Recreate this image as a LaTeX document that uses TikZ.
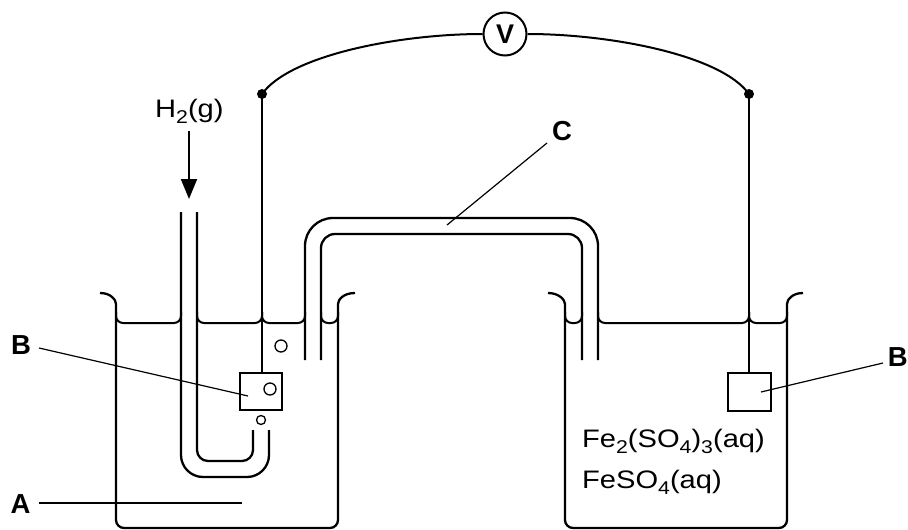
\documentclass[tikz,border=0pt]{standalone}
\usepackage{fontspec}
\setmainfont{Liberation Sans}
\newfontfamily\chemfont[FakeStretch=1.15]{Liberation Sans}
\usetikzlibrary{arrows.meta}
\newcommand\chs[1]{\raisebox{-6pt}{\fontsize{18.5}{18.5}\selectfont #1}}
\tikzset{
  glass/.style={line width=2.3pt, rounded corners=8pt},
  wire/.style={line width=2pt},
  leader/.style={line width=1.2pt},
  bubble/.style={line width=1.3pt},
  lbl/.style={font=\fontsize{27.5}{30}\selectfont\bfseries, inner sep=0pt},
  chem/.style={font=\chemfont\fontsize{25.3}{28}\selectfont, inner sep=0pt},
}
\begin{document}
\begin{tikzpicture}[x=1pt,y=-1pt]
\useasboundingbox (0,0) rectangle (908,530);
% ---- beakers
\draw[glass] (100,293) .. controls (111,293) and (116,300) .. (116,312) -- (116,528) -- (338,528) -- (338,312) .. controls (338,300) and (343,293) .. (355,293);
\draw[glass] (548,293) .. controls (559,293) and (565,300) .. (565,312) -- (565,528) -- (787,528) -- (787,312) .. controls (787,300) and (792,293) .. (803,293);
% ---- liquid surfaces (menisci)
\foreach \a/\b in {116/181, 197/262, 262/305, 321/338, 565/582, 598/749, 749/787}
  \draw[line width=2pt, rounded corners=7pt] (\a,312) -- (\a,323) -- (\b,323) -- (\b,312);
% ---- hydrogen U tube
\draw[line width=2.3pt, rounded corners=22pt] (181,212) -- (181,477) -- (269,477) -- (269,430);
\draw[line width=2.3pt, rounded corners=11pt] (197,212) -- (197,461) -- (253,461) -- (253,430);
% ---- salt bridge
\draw[line width=2.3pt, rounded corners=28pt] (305,360) -- (305,218) -- (598,218) -- (598,360);
\draw[line width=2.3pt, rounded corners=14pt] (321,360) -- (321,234) -- (582,234) -- (582,360);
% ---- electrodes
\node[draw, line width=2.3pt, minimum width=42pt, minimum height=37pt, inner sep=0pt] (eL) at (261,391.5) {};
\node[draw, line width=2.3pt, minimum width=43pt, minimum height=38pt, inner sep=0pt] (eR) at (749.5,392) {};
\coordinate (jL) at (262,94);
\coordinate (jR) at (749,94);
\fill (jL) circle (5pt);
\fill (jR) circle (5pt);
\draw[wire] (jL) -- (jL |- eL.north);
\draw[wire] (jR) -- (jR |- eR.north);
% ---- bubbles
\draw[bubble] (281,346) circle (6pt);
\draw[bubble] (270,389) circle (6pt);
\draw[bubble] (261,420) circle (4.5pt);
% ---- voltmeter
\node[draw, circle, line width=2pt, minimum size=43pt, inner sep=0pt, font=\fontsize{27}{28}\selectfont\bfseries] (V) at (505,34) {V};
\draw[wire] (jL) .. controls (290,55) and (400,34) .. (V.west);
\draw[wire] (V.east) .. controls (610,34) and (721,55) .. (jR);
% ---- hydrogen inlet
\node[chem, anchor=base west] (h2) at (155,117) {H\chs{2}(g)};
\coordinate (arrS) at (189,131);
\coordinate (arrE) at (189,199);
\draw[line width=2pt, -{Triangle[width=16pt,length=20pt]}] (arrS) -- (arrE);
% ---- solution labels
\node[chem, anchor=base west] (sol1) at (582,447) {Fe\chs{2}(SO\chs{4})\chs{3}(aq)};
\node[chem, anchor=base west] (sol2) at (582,488) {FeSO\chs{4}(aq)};
% ---- letter labels and leaders
\node[lbl] (labB1) at (21,345) {B};
\node[lbl] (labA) at (20.5,504.5) {A};
\node[lbl] (labC) at (562,131) {C};
\node[lbl, anchor=east] (labB2) at (908,357) {B};
\coordinate (lB1s) at (39,348);  \coordinate (lB1e) at (248,396);
\coordinate (lAs) at (39,503);   \coordinate (lAe) at (242,503);
\coordinate (lCs) at (547,143);  \coordinate (lCe) at (447,225);
\coordinate (lB2s) at (883,363); \coordinate (lB2e) at (761,392);
\draw[leader] (lB1s) -- (lB1e);
\draw[leader] (lAs) -- (lAe);
\draw[leader] (lCs) -- (lCe);
\draw[leader] (lB2s) -- (lB2e);
\end{tikzpicture}
\end{document}
